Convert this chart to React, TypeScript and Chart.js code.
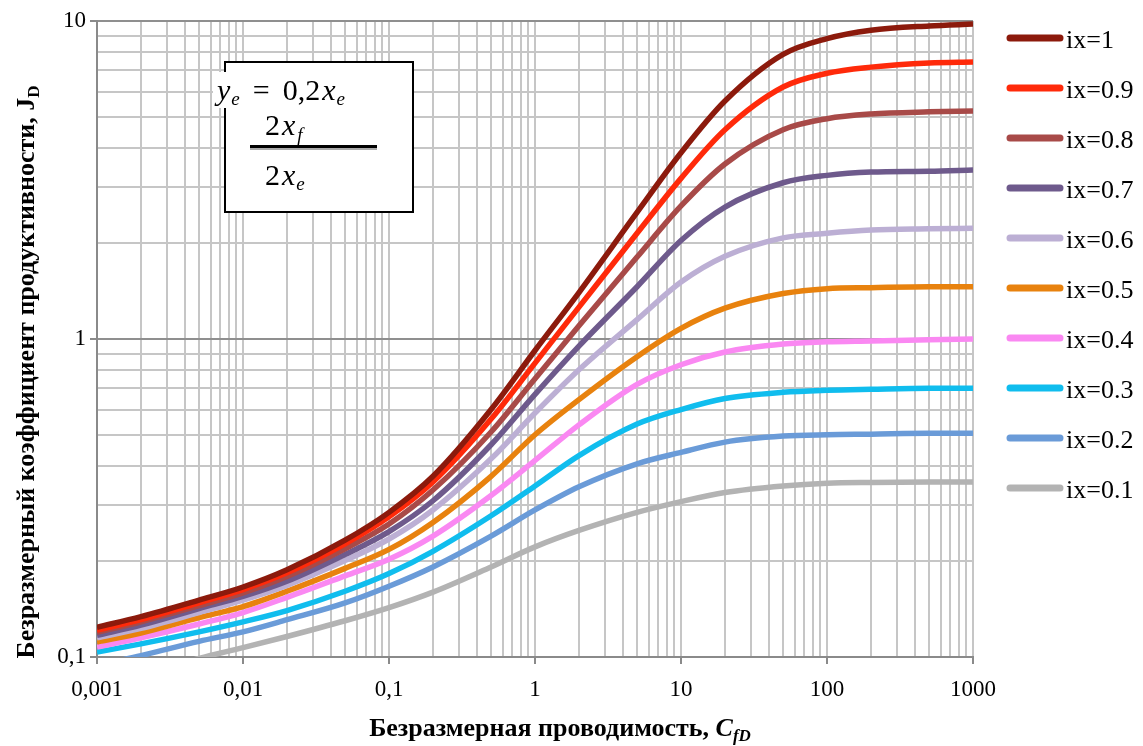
import React, { useEffect, useRef } from 'react';
import { Chart, registerables } from 'chart.js';

Chart.register(...registerables);

// ---------- DATA ----------
const cfd = [0.001, 0.002, 0.005, 0.01, 0.02, 0.05, 0.1, 0.2, 0.5, 1, 2, 5, 10, 20, 50, 100, 200, 500, 1000];

const seriesNames = ['ix=1', 'ix=0.9', 'ix=0.8', 'ix=0.7', 'ix=0.6', 'ix=0.5', 'ix=0.4', 'ix=0.3', 'ix=0.2', 'ix=0.1'];

const jd_ix10 = [0.124, 0.134, 0.151, 0.166, 0.188, 0.233, 0.285, 0.37, 0.6, 0.92, 1.4, 2.5, 3.85, 5.6, 7.85, 8.8, 9.35, 9.65, 9.78];
const jd_ix09 = [0.1215, 0.131, 0.148, 0.163, 0.184, 0.227, 0.276, 0.355, 0.56, 0.84, 1.26, 2.15, 3.2, 4.55, 6.2, 6.85, 7.16, 7.38, 7.43];
const jd_ix08 = [0.1195, 0.129, 0.145, 0.159, 0.179, 0.219, 0.262, 0.335, 0.51, 0.75, 1.1, 1.81, 2.62, 3.55, 4.55, 4.93, 5.1, 5.18, 5.21];
const jd_ix07 = [0.117, 0.126, 0.142, 0.155, 0.173, 0.21, 0.248, 0.31, 0.465, 0.67, 0.95, 1.46, 2.04, 2.6, 3.1, 3.27, 3.35, 3.37, 3.4];
const jd_ix06 = [0.115, 0.123, 0.138, 0.151, 0.168, 0.201, 0.235, 0.29, 0.42, 0.585, 0.8, 1.15, 1.51, 1.82, 2.08, 2.15, 2.2, 2.22, 2.23];
const jd_ix05 = [0.1115, 0.119, 0.133, 0.144, 0.161, 0.19, 0.218, 0.265, 0.37, 0.5, 0.645, 0.88, 1.08, 1.25, 1.39, 1.44, 1.45, 1.46, 1.46];
const jd_ix04 = [0.1075, 0.115, 0.127, 0.138, 0.154, 0.18, 0.203, 0.24, 0.322, 0.415, 0.537, 0.72, 0.83, 0.91, 0.964, 0.98, 0.986, 0.995, 1.0];
const jd_ix03 = [0.1036, 0.11, 0.12, 0.129, 0.14, 0.161, 0.183, 0.215, 0.278, 0.345, 0.43, 0.54, 0.6, 0.65, 0.68, 0.69, 0.695, 0.7, 0.7];
const jd_ix02 = [0.094, 0.101, 0.112, 0.12, 0.131, 0.148, 0.167, 0.192, 0.24, 0.29, 0.343, 0.405, 0.44, 0.474, 0.495, 0.5, 0.502, 0.505, 0.505];
const jd_ix01 = [0.08, 0.087, 0.099, 0.107, 0.116, 0.13, 0.143, 0.16, 0.192, 0.222, 0.25, 0.285, 0.308, 0.329, 0.345, 0.352, 0.354, 0.355, 0.355];

const seriesValues = [jd_ix10, jd_ix09, jd_ix08, jd_ix07, jd_ix06, jd_ix05, jd_ix04, jd_ix03, jd_ix02, jd_ix01];

const seriesColors = ['#8c1a0c', '#ff2a0a', '#a84a48', '#6e5a8c', '#bcafd4', '#e8820e', '#fa88f2', '#10bdee', '#6a9bd8', '#b3b3b3'];

const xTickValues = [0.001, 0.01, 0.1, 1, 10, 100, 1000];
const xTickLabels = ['0,001', '0,01', '0,1', '1', '10', '100', '1000'];
const yTickValues = [0.1, 1, 10];
const yTickLabels = ['0,1', '1', '10'];

const xTitle = 'Безразмерная проводимость, ';
const yTitle = 'Безразмерный коэффициент продуктивности, J';

// ---------- HELPERS ----------
const SERIF = '"Liberation Serif", "Times New Roman", serif';

function logTicks(decades: number[]) {
  const out: { value: number }[] = [];
  for (let i = 0; i < decades.length - 1; i++) {
    for (let k = 1; k <= 9; k++) out.push({ value: parseFloat((k * decades[i]).toPrecision(6)) });
  }
  out.push({ value: decades[decades.length - 1] });
  return out;
}
function findIdx(list: number[], v: number) {
  return list.findIndex((t) => Math.abs(t - v) / t < 1e-6);
}

const decorPlugin = {
  id: 'decor',
  afterDraw(chart: any) {
    const ctx = chart.ctx as CanvasRenderingContext2D;
    ctx.save();
    ctx.fillStyle = '#000';
    ctx.textBaseline = 'alphabetic';

    // ----- X title -----
    const fMain = `bold 26px ${SERIF}`;
    const fIt = `bold italic 26px ${SERIF}`;
    const fSub = `bold italic 17px ${SERIF}`;
    ctx.font = fMain;
    const w1 = ctx.measureText(xTitle).width;
    ctx.font = fIt;
    const w2 = ctx.measureText('C').width;
    ctx.font = fSub;
    const w3 = ctx.measureText('fD').width;
    const total = w1 + w2 + w3;
    const x0 = 560 - total / 2;
    const by = 736;
    ctx.font = fMain;
    ctx.fillText(xTitle, x0, by);
    ctx.font = fIt;
    ctx.fillText('C', x0 + w1, by);
    ctx.font = fSub;
    ctx.fillText('fD', x0 + w1 + w2, by + 5);

    // ----- Y title -----
    ctx.save();
    ctx.translate(34, 372);
    ctx.rotate(-Math.PI / 2);
    ctx.font = fMain;
    const yw1 = ctx.measureText(yTitle).width;
    ctx.font = `bold 17px ${SERIF}`;
    const yw2 = ctx.measureText('D').width;
    const yx0 = -(yw1 + yw2) / 2;
    ctx.font = fMain;
    ctx.fillText(yTitle, yx0, 0);
    ctx.font = `bold 17px ${SERIF}`;
    ctx.fillText('D', yx0 + yw1, 5);
    ctx.restore();

    // ----- Legend -----
    chart.data.datasets.forEach((ds: any, i: number) => {
      const y = 38 + i * 50;
      ctx.strokeStyle = ds.borderColor;
      ctx.lineWidth = 7;
      ctx.lineCap = 'round';
      ctx.beginPath();
      ctx.moveTo(1010, y);
      ctx.lineTo(1060, y);
      ctx.stroke();
      ctx.fillStyle = '#000';
      ctx.font = `26px ${SERIF}`;
      ctx.textBaseline = 'middle';
      ctx.fillText(ds.label, 1066, y + 3);
    });
    ctx.textBaseline = 'alphabetic';

    // ----- Inset box -----
    ctx.fillStyle = '#fff';
    ctx.fillRect(225, 62, 188, 150);
    ctx.strokeStyle = '#000';
    ctx.lineWidth = 2;
    ctx.lineCap = 'butt';
    ctx.strokeRect(225, 62, 188, 150);
    ctx.fillStyle = '#fff';
    ctx.fillRect(213, 72, 150, 36);

    const mIt = `italic 30px ${SERIF}`;
    const mRg = `30px ${SERIF}`;
    const mSub = `italic 19px ${SERIF}`;
    const drawRun = (parts: [string, string, number, number][], x: number, y: number) => {
      let cx = x;
      parts.forEach(([t, f, dy, gap]) => {
        cx += gap;
        ctx.font = f;
        ctx.fillStyle = '#000';
        ctx.fillText(t, cx, y + dy);
        cx += ctx.measureText(t).width;
      });
    };
    drawRun(
      [
        ['y', mIt, 0, 0],
        ['e', mSub, 5, 1],
        ['=', mRg, 0, 13],
        ['0,2', mRg, 0, 13],
        ['x', mIt, 0, 2],
        ['e', mSub, 5, 1],
      ],
      217,
      100
    );
    drawRun(
      [
        ['2', mRg, 0, 0],
        ['x', mIt, 0, 2],
        ['f', mSub, 6, 2],
      ],
      265,
      135
    );
    ctx.fillStyle = '#000';
    ctx.fillRect(250, 145, 127, 3);
    ctx.fillStyle = '#aaa';
    ctx.fillRect(250, 148, 127, 2);
    drawRun(
      [
        ['2', mRg, 0, 0],
        ['x', mIt, 0, 2],
        ['e', mSub, 5, 1],
      ],
      265,
      185
    );

    ctx.restore();
  },
};

export default function App() {
  const canvasRef = useRef<HTMLCanvasElement | null>(null);

  useEffect(() => {
    const canvas = canvasRef.current;
    if (!canvas) return;
    const datasets = seriesNames.map((name, i) => ({
      label: name,
      data: cfd.map((x, j) => ({ x, y: seriesValues[i][j] })),
      borderColor: seriesColors[i],
      backgroundColor: seriesColors[i],
      borderWidth: 5.5,
      pointRadius: 0,
      fill: false,
      cubicInterpolationMode: 'monotone' as const,
    }));

    const chart = new Chart(canvas, {
      type: 'line',
      data: { datasets },
      options: {
        responsive: false,
        animation: false,
        devicePixelRatio: 1,
        layout: { padding: { left: 0, top: 21, right: 170, bottom: 0 } },
        plugins: { legend: { display: false }, tooltip: { enabled: false } },
        scales: {
          x: {
            type: 'logarithmic',
            min: 0.001,
            max: 1000,
            afterBuildTicks: (scale: any) => {
              scale.ticks = logTicks(xTickValues);
            },
            afterFit: (scale: any) => {
              scale.height = 89;
            },
            border: { color: '#8a8a8a', width: 2 },
            grid: {
              color: '#c6c6c6',
              lineWidth: 2,
              drawTicks: true,
              tickLength: 7,
              tickWidth: 2,
              tickColor: (c: any) => (findIdx(xTickValues, c.tick.value) >= 0 ? '#8a8a8a' : 'rgba(0,0,0,0)'),
            },
            ticks: {
              autoSkip: false,
              maxRotation: 0,
              padding: 12,
              color: '#000',
              font: { family: SERIF, size: 23 },
              callback: (v: any) => {
                const i = findIdx(xTickValues, Number(v));
                return i >= 0 ? xTickLabels[i] : '';
              },
            },
          },
          y: {
            type: 'logarithmic',
            min: 0.1,
            max: 10,
            afterBuildTicks: (scale: any) => {
              scale.ticks = logTicks(yTickValues);
            },
            afterFit: (scale: any) => {
              scale.width = 97;
            },
            border: { color: '#8a8a8a', width: 2 },
            grid: {
              color: (c: any) => (findIdx(yTickValues, c.tick.value) >= 0 ? '#8f8f8f' : '#c6c6c6'),
              lineWidth: 2,
              drawTicks: true,
              tickLength: 7,
              tickWidth: 2,
              tickColor: (c: any) => (findIdx(yTickValues, c.tick.value) >= 0 ? '#8a8a8a' : 'rgba(0,0,0,0)'),
            },
            ticks: {
              autoSkip: false,
              padding: 4,
              color: '#000',
              font: { family: SERIF, size: 23 },
              callback: (v: any) => {
                const i = findIdx(yTickValues, Number(v));
                return i >= 0 ? yTickLabels[i] : '';
              },
            },
          },
        },
      },
      plugins: [decorPlugin],
    });
    return () => chart.destroy();
  }, []);

  return (
    <div style={{ position: 'fixed', left: 0, top: 0, width: 1143, height: 746, background: '#fff' }}>
      <canvas ref={canvasRef} width={1143} height={746} />
    </div>
  );
}
